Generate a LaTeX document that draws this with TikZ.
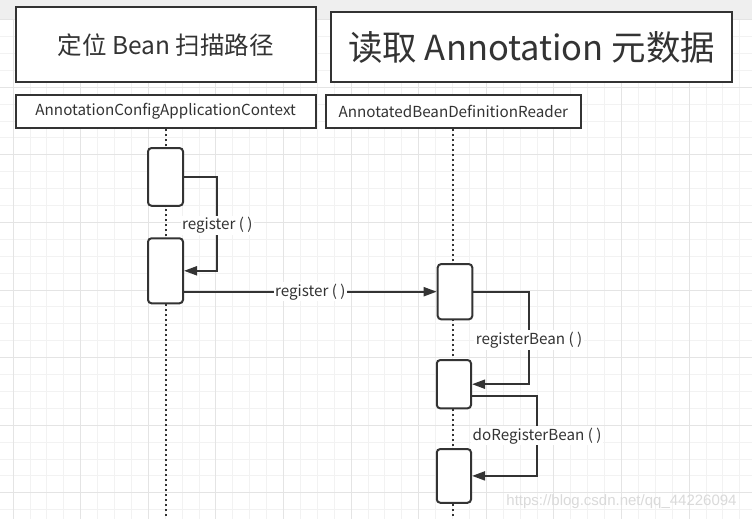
\documentclass[tikz,border=0pt]{standalone}
\usepackage{fontspec}
\setmainfont{Noto Sans CJK SC}
\newfontfamily\wmfont{Liberation Sans}
\usetikzlibrary{arrows.meta,calc}
\definecolor{ink}{HTML}{333333}
\definecolor{gridminor}{HTML}{F2F2F2}
\definecolor{gridmajor}{HTML}{E4E4E4}
\definecolor{band}{HTML}{EFEFEF}
\definecolor{wm}{HTML}{DADADA}
\begin{document}
\begin{tikzpicture}[x=1pt,y=-1pt,
  titlebox/.style={draw=ink,line width=2.2pt,fill=white,text=ink,inner sep=0pt},
  headbox/.style={draw=ink,line width=2pt,fill=white,text=ink,inner sep=0pt,minimum height=33.3pt,font=\fontsize{15.2}{17}\selectfont},
  actbox/.style={draw=ink,line width=2pt,fill=white,rounded corners=3.5pt,minimum width=35pt,inner sep=0pt},
  lifeline/.style={draw=ink,line width=1.8pt,dash pattern=on 2pt off 3pt},
  msg/.style={draw=ink,line width=2pt,-{Triangle[length=13pt,width=9pt]}},
  lbl/.style={fill=white,text=ink,inner sep=1.5pt,font=\fontsize{15.2}{17}\selectfont}
]
\useasboundingbox (0,0) rectangle (752,519);
\fill[white] (0,0) rectangle (752,519);
\fill[band] (0,0) rectangle (752,20);
% grid
\foreach \k in {-1,...,44} \draw[gridminor,line width=1pt] ({13.1+16.9*\k},20) -- ({13.1+16.9*\k},519);
\foreach \k in {0,...,30} \draw[gridminor,line width=1pt] (0,{19.6+16.9*\k}) -- (752,{19.6+16.9*\k});
\foreach \k in {0,...,11} \draw[gridmajor,line width=1pt] ({13.1+67.6*\k},20) -- ({13.1+67.6*\k},519);
\foreach \k in {0,...,7} \draw[gridmajor,line width=1pt] (0,{19.6+67.6*\k}) -- (752,{19.6+67.6*\k});

% title boxes
\node[titlebox,minimum width=300pt,minimum height=75pt,font=\fontsize{24.5}{28}\selectfont] (t1) at (165.7,44.8) {\raisebox{-3pt}{定位 Bean 扫描路径}};
\node[titlebox,minimum width=401.3pt,minimum height=70pt,font=\fontsize{34.5}{40}\selectfont] (t2) at (531.7,47.3) {\raisebox{-2.5pt}{读取 Annotation 元数据}};

% lifeline heads
\node[headbox,minimum width=300pt] (h1) at (165.7,111.7) {\raisebox{-2.5pt}{AnnotationConfigApplicationContext}};
\node[headbox,minimum width=255.3pt] (h2) at (453.3,111.7) {\raisebox{-2.5pt}{AnnotatedBeanDefinitionReader}};

\coordinate (e1) at (165.7,519);
\coordinate (e2) at (453.3,519);
\draw[lifeline] (h1.south) -- (e1);
\draw[lifeline] (h2.south) -- (e2);

% activations
\node[actbox,minimum height=57.7pt] (a1) at (165.5,176.9) {};
\node[actbox,minimum height=65pt] (a2) at (165.5,270.8) {};
\node[actbox,minimum width=34.6pt,minimum height=55.3pt] (b1) at (455,291.7) {};
\node[actbox,minimum width=34.3pt,minimum height=48.3pt] (b2) at (453.9,384.2) {};
\node[actbox,minimum width=34.3pt,minimum height=53.7pt] (b3) at (453.9,475.9) {};

% messages
\draw[msg] (a1.east) -- ++(33.4,0) |- node[pos=0.25,lbl,yshift=-1.5pt]{\raisebox{-1.5pt}{register ( )}} (a2.east);
\draw[msg] (a2.east |- b1.west) -- node[lbl]{\raisebox{-2pt}{register ( )}} (b1.west);
\draw[msg] (b1.east) -- ++(55.7,0) |- node[pos=0.25,lbl,yshift=-2pt]{\raisebox{-1.5pt}{registerBean ( )}} (b2.east);
\coordinate (s3) at ($(b2.east)+(0,11.5)$);
\draw[msg] (s3) -- ++(65,0) |- node[pos=0.25,lbl]{\raisebox{-2pt}{doRegisterBean ( )}} (b3.east);

% watermark
\node[text=wm,font=\wmfont\fontsize{15}{17}\selectfont,inner sep=0pt] (wmk) at (621.5,501.5) {https://blog.csdn.net/qq\_44226094};
\end{tikzpicture}
\end{document}
